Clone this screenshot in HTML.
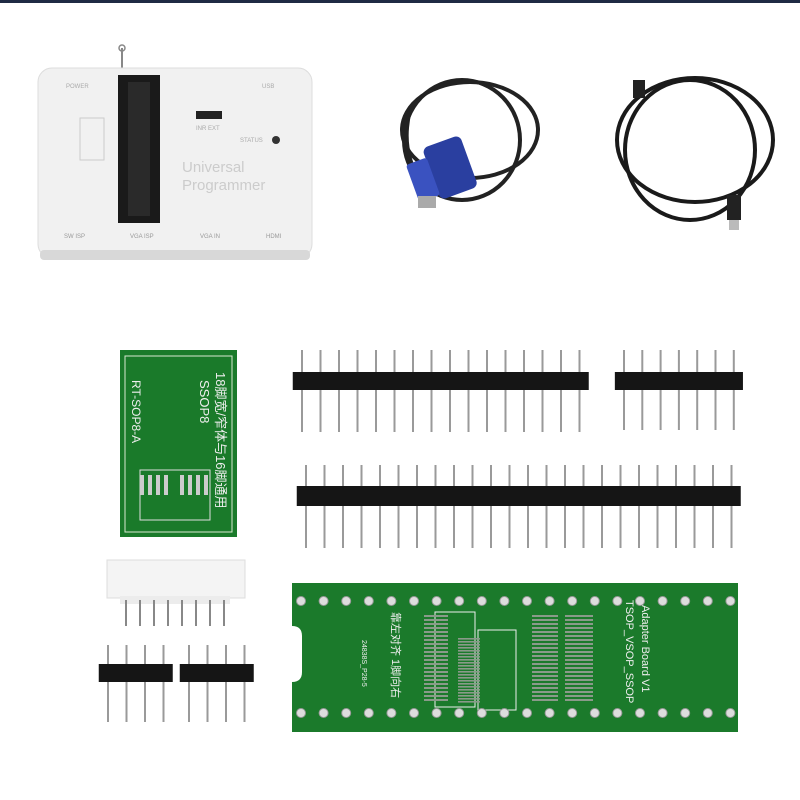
<!DOCTYPE html>
<html><head><meta charset="utf-8"><style>
html,body{margin:0;padding:0;background:#fff;width:800px;height:800px;overflow:hidden}
svg{display:block}
text{font-family:"Liberation Sans","Noto Sans CJK SC",sans-serif}
</style></head><body>
<svg id="s" width="800" height="800" viewBox="0 0 800 800" xmlns="http://www.w3.org/2000/svg">
<rect x="0" y="0" width="800" height="3" fill="#1f2a44"/>
<!-- programmer -->
<line x1="122" y1="48" x2="122" y2="80" stroke="#888" stroke-width="2"/>
<circle cx="122" cy="48" r="3" fill="none" stroke="#888" stroke-width="1.5"/>
<rect x="38" y="68" width="274" height="190" rx="14" fill="#f1f1f1" stroke="#ddd"/>
<rect x="40" y="250" width="270" height="10" rx="4" fill="#d8d8d8"/>
<rect x="118" y="75" width="42" height="148" fill="#1a1a1a"/>
<rect x="128" y="82" width="22" height="134" fill="#2a2a2a"/>
<rect x="80" y="118" width="24" height="42" fill="none" stroke="#ccc"/>
<rect x="196" y="111" width="26" height="8" fill="#222"/>
<circle cx="276" cy="140" r="4" fill="#333"/>
<text x="182" y="172" font-size="15" fill="#ccc">Universal</text>
<text x="182" y="190" font-size="15" fill="#ccc">Programmer</text>
<text x="66" y="88" font-size="6" fill="#aaa">POWER</text>
<text x="262" y="88" font-size="6" fill="#aaa">USB</text>
<text x="240" y="142" font-size="6" fill="#aaa">STATUS</text>
<text x="196" y="130" font-size="6" fill="#aaa">INR EXT</text>
<text x="64" y="238" font-size="6" fill="#999">SW   ISP</text>
<text x="130" y="238" font-size="6" fill="#999">VGA  ISP</text>
<text x="200" y="238" font-size="6" fill="#999">VGA  IN</text>
<text x="266" y="238" font-size="6" fill="#999">HDMI</text>
<!-- VGA cable -->
<g fill="none" stroke="#222" stroke-width="4">
<ellipse cx="470" cy="130" rx="68" ry="48"/>
<ellipse cx="462" cy="140" rx="58" ry="60"/>
<path d="M420 180 Q400 150 410 110"/>
</g>
<rect x="430" y="140" width="40" height="55" rx="6" fill="#2a3fa0" transform="rotate(-20 450 167)"/>
<rect x="412" y="160" width="22" height="40" rx="3" fill="#3a52c0" transform="rotate(-20 423 180)"/>
<rect x="418" y="196" width="18" height="12" fill="#aaa"/>
<!-- USB cable -->
<g fill="none" stroke="#1a1a1a" stroke-width="4">
<ellipse cx="695" cy="140" rx="78" ry="62"/>
<ellipse cx="690" cy="150" rx="65" ry="70"/>
</g>
<rect x="727" y="195" width="14" height="25" fill="#222"/>
<rect x="729" y="220" width="10" height="10" fill="#bbb"/>
<rect x="633" y="80" width="12" height="18" fill="#222"/>
<!-- SSOP8 board -->
<rect x="120" y="350" width="117" height="187" fill="#1a7a2a"/>
<rect x="125" y="356" width="107" height="176" fill="none" stroke="#d8e8d0" stroke-width="1"/>
<rect x="140" y="470" width="70" height="50" fill="none" stroke="#ddd"/>
<text x="0" y="0" font-size="13" fill="#eee" transform="translate(200 380) rotate(90)">SSOP8</text>
<text x="0" y="0" font-size="13" fill="#eee" transform="translate(216 372) rotate(90)">18脚宽/窄体与16脚通用</text>
<text x="0" y="0" font-size="12" fill="#eee" transform="translate(132 380) rotate(90)">RT-SOP8-A</text>
<!-- white connector -->
<rect x="107" y="560" width="138" height="38" fill="#f4f4f4" stroke="#ddd"/>
<rect x="120" y="596" width="110" height="8" fill="#ececec"/>
<!-- big board -->
<path d="M292 583 H738 V732 H292 V682 Q302 682 302 672 V636 Q302 626 292 626 Z" fill="#1b7a2b"/>
<rect x="435" y="612" width="40" height="95" fill="none" stroke="#eee"/>
<rect x="478" y="630" width="38" height="80" fill="none" stroke="#eee"/>
<text x="0" y="0" font-size="11" fill="#eee" transform="translate(626 600) rotate(90)">TSOP_VSOP_SSOP</text>
<text x="0" y="0" font-size="11" fill="#eee" transform="translate(642 605) rotate(90)">Adapter Board V1</text>
<text x="0" y="0" font-size="7" fill="#eee" transform="translate(362 640) rotate(90)">24838S_P28-5</text>
<text x="0" y="0" font-size="11" fill="#eee" transform="translate(392 612) rotate(90)">靠左对齐 1脚向右</text>
<g id="dyn"></g>
</svg>
<script>
var g=document.getElementById('dyn'),ns='http://www.w3.org/2000/svg';
function el(t,a){var e=document.createElementNS(ns,t);for(var k in a)e.setAttribute(k,a[k]);g.appendChild(e);}
function header(x0,n,sp,yt,yb,b1,b2){for(var i=0;i<n;i++){var x=x0+i*sp;el('line',{x1:x,y1:yt,x2:x,y2:yb,stroke:'#9a9a9a','stroke-width':2});}
el('rect',{x:x0-sp/2,y:b1,width:n*sp,height:b2-b1,fill:'#151515'});}
header(302,16,18.5,350,432,372,390);
header(624,7,18.3,350,430,372,390);
header(306,24,18.5,465,548,486,506);
header(108,4,18.5,645,722,664,682);
header(189,4,18.5,645,722,664,682);
for(var i=0;i<8;i++)el('line',{x1:126+i*14,y1:600,x2:126+i*14,y2:626,stroke:'#888','stroke-width':2});
for(var i=0;i<20;i++){var x=301+i*22.6;el('circle',{cx:x,cy:601,r:4.5,fill:'#ddd',stroke:'#999'});el('circle',{cx:x,cy:713,r:4.5,fill:'#ddd',stroke:'#999'});}
for(var i=0;i<22;i++){el('rect',{x:424,y:615+i*4,width:24,height:2,fill:'#8a9a8a'});el('rect',{x:458,y:638+i*3,width:22,height:1.6,fill:'#8a9a8a'});el('rect',{x:532,y:615+i*4,width:26,height:2,fill:'#8a9a8a'});el('rect',{x:565,y:615+i*4,width:28,height:2,fill:'#8a9a8a'});}
for(var i=0;i<4;i++){el('rect',{x:140+i*8,y:475,width:4,height:20,fill:'#ccc'});el('rect',{x:180+i*8,y:475,width:4,height:20,fill:'#ccc'});}
</script>
</body></html>
